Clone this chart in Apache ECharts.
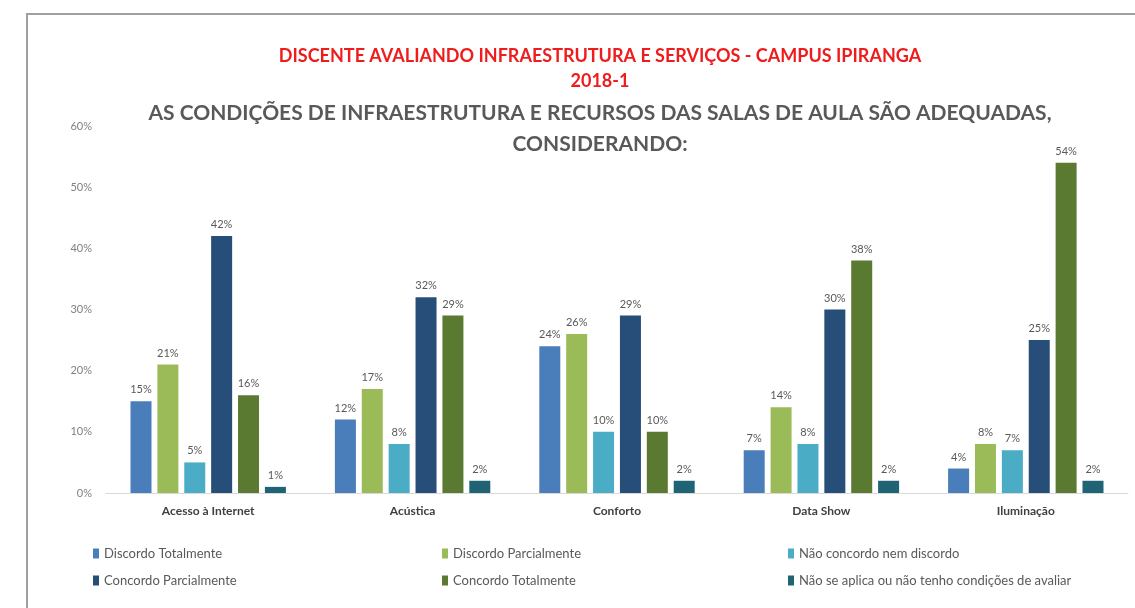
<!DOCTYPE html>
<html>
<head>
<meta charset="utf-8">
<script src="https://cdn.jsdelivr.net/npm/echarts@6/dist/echarts.min.js"></script>
<style>
  html, body { margin: 0; padding: 0; background: #fff; }
  #frame { position: absolute; left: 26px; top: 13px; width: 1200px; height: 700px; border-left: 2px solid #a0a0a0; border-top: 2px solid #a0a0a0; }
  #chart { position: absolute; left: 0; top: 0; width: 1135px; height: 608px; }
</style>
</head>
<body>
<div id="frame"></div>
<div id="chart"></div>
<script>
const categories = ['Acesso à Internet', 'Acústica', 'Conforto', 'Data Show', 'Iluminação'];
const seriesNames = [
  'Discordo Totalmente',
  'Discordo Parcialmente',
  'Não concordo nem discordo',
  'Concordo Parcialmente',
  'Concordo Totalmente',
  'Não se aplica ou não tenho condições de avaliar'
];
const discordoTotalmente = [15, 12, 24, 7, 4];
const discordoParcialmente = [21, 17, 26, 14, 8];
const naoConcordoNemDiscordo = [5, 8, 10, 8, 7];
const concordoParcialmente = [42, 32, 29, 30, 25];
const concordoTotalmente = [16, 29, 10, 38, 54];
const naoSeAplica = [1, 2, 2, 2, 2];
const yTicks = [0, 10, 20, 30, 40, 50, 60];

const colors = ['#4a7ebb', '#9bbb59', '#4bacc6', '#264e78', '#5a7a32', '#1f6374'];
const values = [discordoTotalmente, discordoParcialmente, naoConcordoNemDiscordo,
  concordoParcialmente, concordoTotalmente, naoSeAplica];

const font = 'Lato, "Open Sans", sans-serif';

const legendPos = [
  [88, 542], [437, 542], [783, 542],
  [88, 569], [437, 569], [783, 569]
];

const chart = echarts.init(document.getElementById('chart'));
chart.setOption({
  animation: false,
  color: colors,
  title: [
    { text: 'DISCENTE AVALIANDO INFRAESTRUTURA E SERVIÇOS - CAMPUS IPIRANGA', left: 595, top: 42, textAlign: 'center',
      textStyle: { color: '#ee1c1c', fontSize: 18, fontWeight: 'bold', fontFamily: font } },
    { text: '2018-1', left: 595, top: 67, textAlign: 'center',
      textStyle: { color: '#ee1c1c', fontSize: 18, fontWeight: 'bold', fontFamily: font } },
    { text: 'AS CONDIÇÕES DE INFRAESTRUTURA E RECURSOS DAS SALAS DE AULA SÃO ADEQUADAS,', left: 595, top: 98, textAlign: 'center',
      textStyle: { color: '#595959', fontSize: 21, fontWeight: 'bold', fontFamily: font } },
    { text: 'CONSIDERANDO:', left: 595, top: 129, textAlign: 'center',
      textStyle: { color: '#595959', fontSize: 21, fontWeight: 'bold', fontFamily: font } }
  ],
  legend: seriesNames.map((n, i) => ({
    data: [n], left: legendPos[i][0], top: legendPos[i][1],
    itemWidth: 6, itemHeight: 10, icon: 'rect',
    textStyle: { color: '#595959', fontSize: 13, fontFamily: font }
  })),
  grid: { left: 106, right: 7, top: 126, bottom: 115 },
  xAxis: {
    type: 'category', data: categories,
    axisLine: { lineStyle: { color: '#d9d9d9' } },
    axisTick: { show: false },
    axisLabel: { color: '#404040', fontSize: 12, fontWeight: 'bold', fontFamily: font, margin: 12 }
  },
  yAxis: {
    type: 'value', min: yTicks[0], max: yTicks[yTicks.length - 1], interval: 10,
    splitLine: { show: false },
    axisLine: { show: false },
    axisLabel: { color: '#808080', fontSize: 11, fontFamily: font, margin: 14, formatter: '{value}%' }
  },
  series: seriesNames.map((n, i) => ({
    name: n, type: 'bar', data: values[i],
    barWidth: 21, barGap: '28%',
    itemStyle: { color: colors[i] },
    label: { show: true, position: 'top', distance: 6, formatter: '{c}%', color: '#595959', fontSize: 11, fontFamily: font }
  }))
});
</script>
</body>
</html>
